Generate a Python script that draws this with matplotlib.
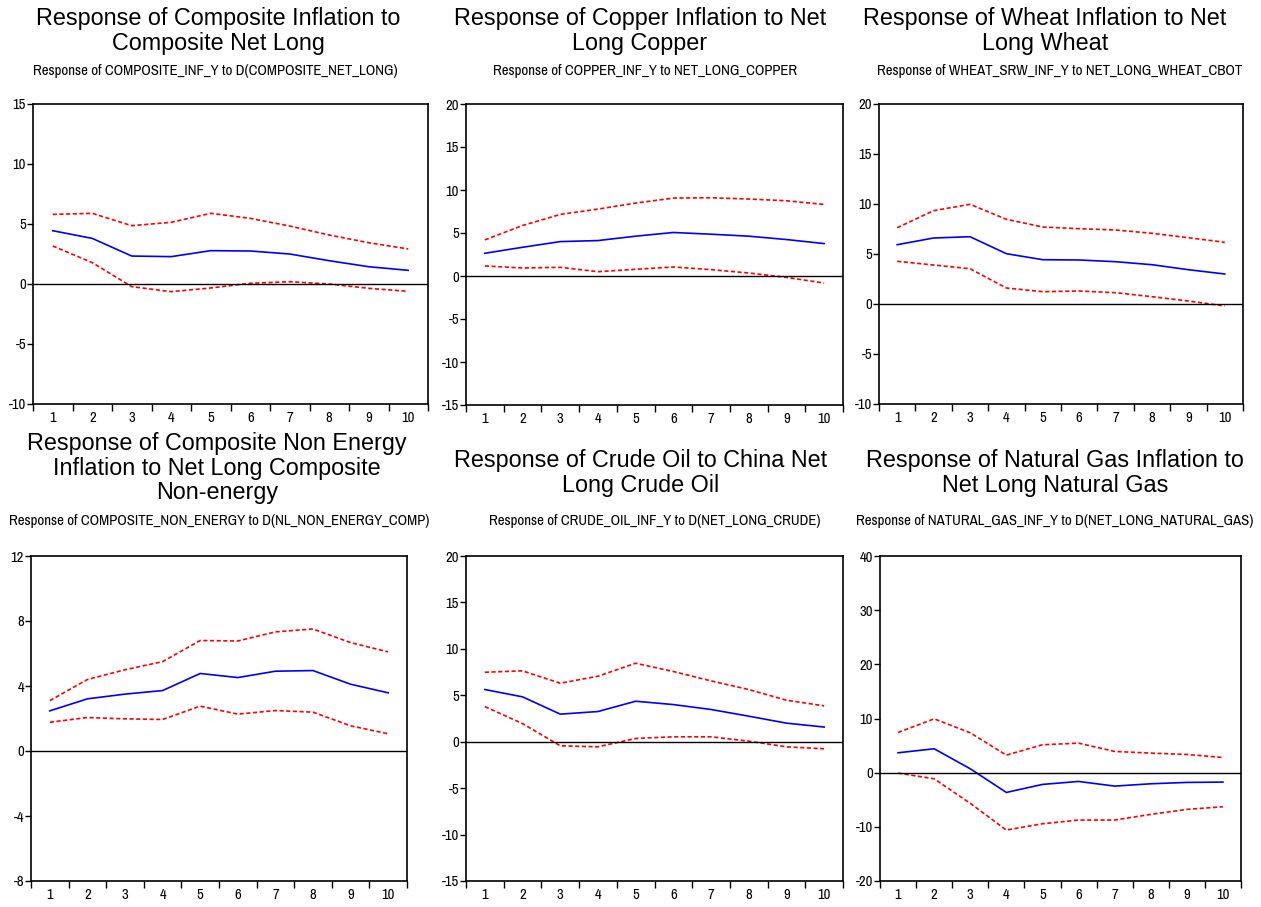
import numpy as np
import matplotlib.pyplot as plt
from matplotlib import font_manager
from matplotlib.ticker import FixedLocator, NullFormatter, FixedFormatter

# periods 1..10
periods = np.arange(1, 11)

titles = [
    "Response of Composite Inflation to\nComposite Net Long",
    "Response of Copper Inflation to Net\nLong Copper",
    "Response of Wheat Inflation to Net\nLong Wheat",
    "Response of Composite Non Energy\nInflation to Net Long Composite\nNon-energy",
    "Response of Crude Oil to China Net\nLong Crude Oil",
    "Response of Natural Gas Inflation to\nNet Long Natural Gas",
]
subtitles = [
    "Response of COMPOSITE_INF_Y to D(COMPOSITE_NET_LONG)",
    "Response of COPPER_INF_Y to NET_LONG_COPPER",
    "Response of WHEAT_SRW_INF_Y to NET_LONG_WHEAT_CBOT",
    "Response of COMPOSITE_NON_ENERGY to D(NL_NON_ENERGY_COMP)",
    "Response of CRUDE_OIL_INF_Y to D(NET_LONG_CRUDE)",
    "Response of NATURAL_GAS_INF_Y to D(NET_LONG_NATURAL_GAS)",
]

# impulse responses (blue) and +/- 2 s.e. bands (red dashed)
composite_irf = [4.44, 3.80, 2.33, 2.28, 2.78, 2.75, 2.50, 1.94, 1.44, 1.14]
composite_up = [5.80, 5.89, 4.86, 5.14, 5.89, 5.47, 4.83, 4.08, 3.44, 2.92]
composite_lo = [3.17, 1.78, -0.22, -0.64, -0.33, 0.06, 0.19, 0.00, -0.36, -0.61]

copper_irf = [2.64, 3.34, 4.00, 4.12, 4.63, 5.06, 4.86, 4.63, 4.24, 3.77]
copper_up = [4.20, 5.87, 7.16, 7.78, 8.48, 9.06, 9.10, 8.95, 8.75, 8.32]
copper_lo = [1.17, 0.93, 1.01, 0.50, 0.78, 1.05, 0.74, 0.35, -0.16, -0.82]

wheat_irf = [5.93, 6.60, 6.73, 5.03, 4.43, 4.40, 4.23, 3.93, 3.43, 3.00]
wheat_up = [7.63, 9.33, 9.97, 8.47, 7.70, 7.53, 7.40, 7.07, 6.63, 6.17]
wheat_lo = [4.27, 3.90, 3.53, 1.60, 1.23, 1.30, 1.13, 0.73, 0.30, -0.20]

nonenergy_irf = [2.47, 3.21, 3.50, 3.72, 4.77, 4.52, 4.91, 4.95, 4.11, 3.58]
nonenergy_up = [3.10, 4.40, 5.00, 5.50, 6.80, 6.77, 7.33, 7.51, 6.67, 6.10]
nonenergy_lo = [1.77, 2.06, 1.98, 1.94, 2.76, 2.27, 2.49, 2.39, 1.55, 1.06]

crude_irf = [5.62, 4.83, 2.97, 3.25, 4.36, 4.00, 3.47, 2.75, 2.00, 1.58]
crude_up = [7.48, 7.63, 6.30, 7.05, 8.45, 7.56, 6.55, 5.62, 4.47, 3.86]
crude_lo = [3.78, 1.95, -0.44, -0.55, 0.35, 0.53, 0.53, 0.06, -0.55, -0.76]

natgas_irf = [3.67, 4.41, 0.72, -3.65, -2.17, -1.62, -2.48, -2.05, -1.80, -1.74]
natgas_up = [7.42, 9.94, 7.36, 3.24, 5.15, 5.45, 3.92, 3.61, 3.36, 2.80]
natgas_lo = [-0.08, -1.13, -5.66, -10.60, -9.43, -8.75, -8.75, -7.70, -6.78, -6.29]

irfs = [composite_irf, copper_irf, wheat_irf, nonenergy_irf, crude_irf, natgas_irf]
uppers = [composite_up, copper_up, wheat_up, nonenergy_up, crude_up, natgas_up]
lowers = [composite_lo, copper_lo, wheat_lo, nonenergy_lo, crude_lo, natgas_lo]

yticks = [
    [-10, -5, 0, 5, 10, 15],
    [-15, -10, -5, 0, 5, 10, 15, 20],
    [-10, -5, 0, 5, 10, 15, 20],
    [-8, -4, 0, 4, 8, 12],
    [-15, -10, -5, 0, 5, 10, 15, 20],
    [-20, -10, 0, 10, 20, 30, 40],
]

# layout in pixels: (left, top, right, bottom) of each plot frame
W, H = 1261, 907
frames = [
    (33, 104, 428, 404),
    (466, 104, 843, 405),
    (879, 104, 1243, 404),
    (31, 556, 407, 881),
    (466, 556, 843, 881),
    (880, 556, 1241, 881),
]
title_pos = [(218, 31), (640, 31), (1045, 31), (217, 468), (641, 473), (1055, 473)]
sub_pos = [(215, 71), (645, 71), (1060, 71), (219, 521), (655, 521), (1055, 521)]

# look for a condensed face for the small texts
narrow_font = None
for f in font_manager.fontManager.ttflist:
    if ('Narrow' in f.name or 'Condensed' in f.name) and f.style == 'normal':
        narrow_font = f.fname
        break
if narrow_font is None:
    for f in font_manager.fontManager.ttflist:
        if f.name == 'DejaVu Sans' and f.stretch == 'condensed' and f.weight == 400:
            narrow_font = f.fname
            break

def small_props(size):
    if narrow_font:
        return dict(fontproperties=font_manager.FontProperties(fname=narrow_font, size=size))
    return dict(family=['Liberation Sans', 'DejaVu Sans'], fontsize=size * 0.85)

wide = ['Liberation Sans', 'Arial', 'DejaVu Sans']

fig = plt.figure(figsize=(W / 100, H / 100), dpi=100)

for i in range(6):
    l, t, r, b = frames[i]
    ax = fig.add_axes([l / W, 1 - b / H, (r - l) / W, (b - t) / H])
    ax.plot(periods, irfs[i], color='#0000ff', lw=1.2)
    ax.plot(periods, uppers[i], color='#ff0000', lw=1.2, ls=(0, (2.5, 1.5)))
    ax.plot(periods, lowers[i], color='#ff0000', lw=1.2, ls=(0, (2.5, 1.5)))
    ax.axhline(0, color='black', lw=1.0)

    ax.set_xlim(0.5, 10.5)
    ax.set_ylim(yticks[i][0], yticks[i][-1])
    ax.set_yticks(yticks[i])
    ax.set_yticklabels([str(v) for v in yticks[i]], **small_props(10.5))

    ax.xaxis.set_major_locator(FixedLocator(np.arange(0.5, 11, 1)))
    ax.xaxis.set_major_formatter(NullFormatter())
    ax.xaxis.set_minor_locator(FixedLocator(periods))
    ax.xaxis.set_minor_formatter(FixedFormatter([str(p) for p in periods]))
    ax.tick_params(axis='x', which='major', direction='out', length=5, width=1)
    ax.tick_params(axis='x', which='minor', length=0, pad=5)
    ax.tick_params(axis='y', direction='out', length=4, width=1, pad=1)
    for lab in ax.xaxis.get_minorticklabels():
        lab.update(small_props(10.5))
    for s in ax.spines.values():
        s.set_linewidth(1.2)

    tx, ty = title_pos[i]
    fig.text(tx / W, 1 - ty / H, titles[i], ha='center', va='center',
             multialignment='center', family=wide, fontsize=16.8, linespacing=1.07)
    sx, sy = sub_pos[i]
    fig.text(sx / W, 1 - sy / H, subtitles[i], ha='center', va='center',
             **small_props(10.7))

fig.savefig('out.png', dpi=100)
